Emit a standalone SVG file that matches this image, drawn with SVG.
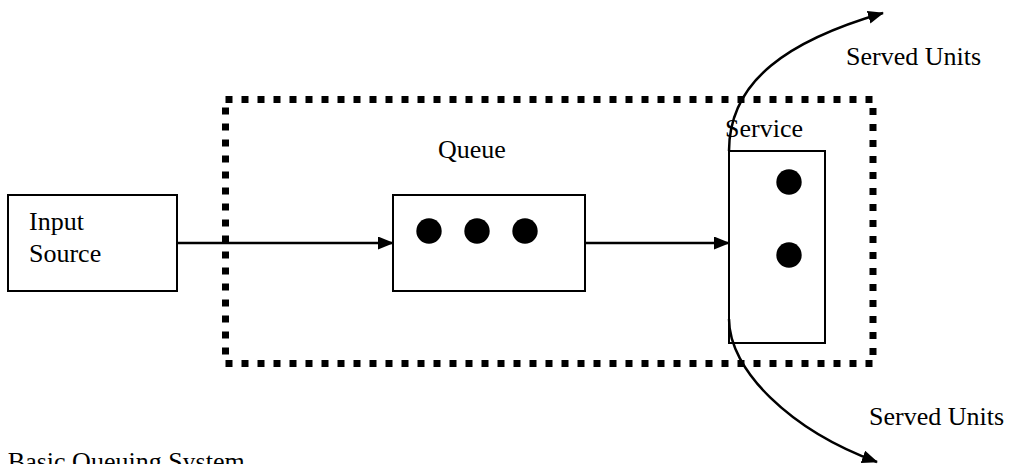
<svg xmlns="http://www.w3.org/2000/svg" width="1010" height="464" viewBox="0 0 1010 464">
<style>
.box{fill:#fff;stroke:#000;stroke-width:2}
.lbl{font-family:"Liberation Serif","Times New Roman",serif;font-size:26px;fill:#000}
.dot{fill:#000}
.con{fill:none;stroke:#000;stroke-width:2.5}
</style>
<defs>
<marker id="ah" markerWidth="16" markerHeight="14" refX="15" refY="6.5" orient="auto" markerUnits="userSpaceOnUse">
<path d="M0,0 L16,6.5 L0,13 Z" fill="#000"/>
</marker>
</defs>
<rect width="1010" height="464" fill="#fff"/>
<g id="system-boundary">
<rect x="225.5" y="99.5" width="647.5" height="264" fill="none" stroke="#000" stroke-width="7" stroke-dasharray="7 9"/>
</g>
<g id="input-source">
<rect class="box" x="8" y="195" width="169" height="96"/>
<text class="lbl" x="29" y="230">Input</text>
<text class="lbl" x="29" y="262">Source</text>
</g>
<g id="queue">
<text class="lbl" x="438" y="158">Queue</text>
<rect class="box" x="393" y="195" width="192" height="96"/>
<circle class="dot" cx="429" cy="231" r="12.7"/>
<circle class="dot" cx="477" cy="231" r="12.7"/>
<circle class="dot" cx="525" cy="231" r="12.7"/>
</g>
<g id="service">
<rect class="box" x="729" y="151" width="96" height="192"/>
<circle class="dot" cx="789" cy="182" r="12.7"/>
<circle class="dot" cx="789" cy="255" r="12.7"/>
<text class="lbl" x="725" y="137">Service</text>
</g>
<g id="served-top">
<text class="lbl" x="846" y="65">Served Units</text>
</g>
<g id="served-bottom">
<text class="lbl" x="869" y="425">Served Units</text>
</g>
<g id="connectors">
<line class="con" x1="177" y1="243" x2="393" y2="243" marker-end="url(#ah)"/>
<line class="con" x1="585" y1="243" x2="729" y2="243" marker-end="url(#ah)"/>
<path class="con" d="M729,151 C729,80 790,40 883,13" marker-end="url(#ah)"/>
<path class="con" d="M729,319 C729,370 790,430 877,462" marker-end="url(#ah)"/>
</g>
<text class="lbl" x="-16" y="470">A Basic Queuing System</text>
</svg>
